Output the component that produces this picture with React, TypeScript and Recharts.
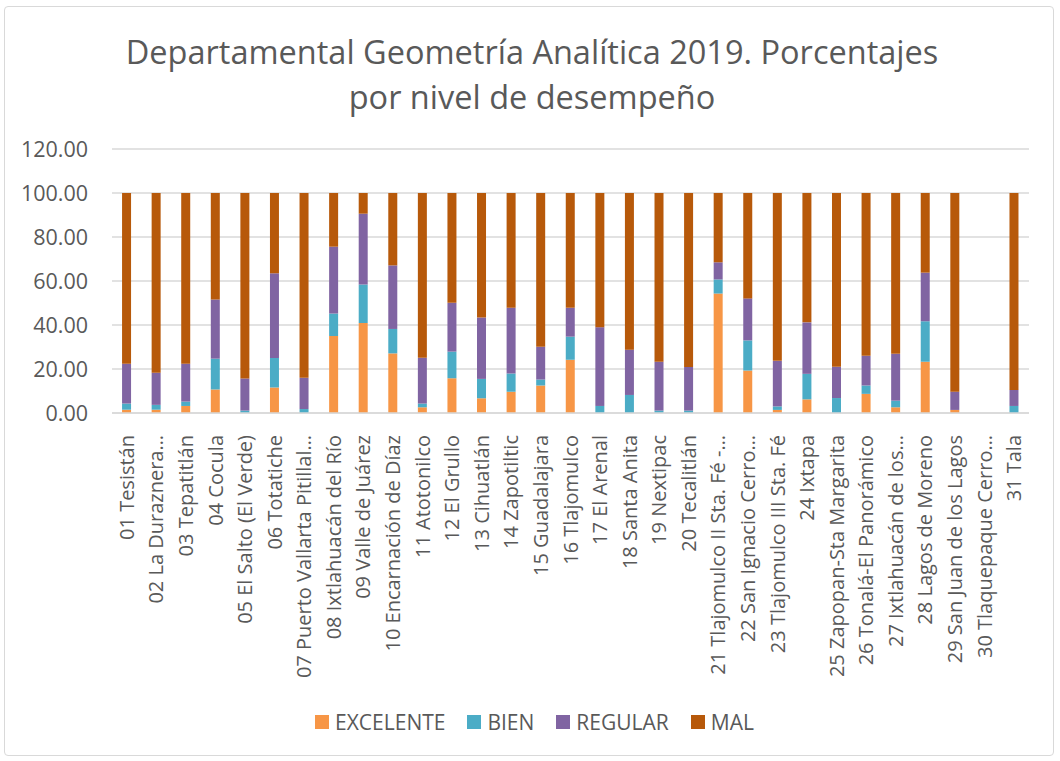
import { Bar, BarChart, CartesianGrid, Legend, XAxis, YAxis } from "recharts";

const categories = [
  "01 Tesistán",
  "02 La Duraznera…",
  "03 Tepatitlán",
  "04 Cocula",
  "05 El Salto (El Verde)",
  "06 Totatiche",
  "07 Puerto Vallarta Pitillal…",
  "08 Ixtlahuacán del Río",
  "09 Valle de Juárez",
  "10 Encarnación de Díaz",
  "11 Atotonilco",
  "12 El Grullo",
  "13 Cihuatlán",
  "14 Zapotiltic",
  "15 Guadalajara",
  "16 Tlajomulco",
  "17 El Arenal",
  "18 Santa Anita",
  "19 Nextipac",
  "20 Tecalitlán",
  "21 Tlajomulco II Sta. Fé -…",
  "22 San Ignacio Cerro…",
  "23 Tlajomulco III Sta. Fé",
  "24 Ixtapa",
  "25 Zapopan-Sta Margarita",
  "26 Tonalá-El Panorámico",
  "27 Ixtlahuacán de los…",
  "28 Lagos de Moreno",
  "29 San Juan de los Lagos",
  "30 Tlaquepaque Cerro…",
  "31 Tala",
];

const excelente = [
  1.5, 1.5, 3.2, 10.7, 0, 11.6, 0, 35.0, 40.9, 27.1, 2.6, 15.8, 6.7, 9.7, 12.5, 24.2,
  0, 0, 0, 0, 54.3, 19.3, 1.4, 6.2, 0, 8.7, 2.6, 23.3, 1.4, 0, 0,
];
const bien = [
  2.8, 2.2, 2.0, 14.0, 1.1, 13.4, 1.8, 10.2, 17.5, 11.1, 1.7, 12.1, 8.8, 8.3, 2.7, 10.5,
  3.2, 8.2, 1.1, 1.1, 6.4, 13.7, 1.6, 11.6, 6.8, 3.8, 3.0, 18.4, 0, 0, 3.2,
];
const regular = [
  18.1, 14.6, 17.2, 26.9, 14.6, 38.5, 14.2, 30.4, 32.2, 28.9, 20.8, 22.2, 27.9, 29.8, 14.9, 13.1,
  35.8, 20.6, 22.2, 19.8, 7.8, 19.1, 20.7, 23.4, 14.2, 13.5, 21.3, 22.1, 8.3, 0, 7.3,
];
const mal = [
  77.6, 81.7, 77.6, 48.4, 84.3, 36.5, 84.0, 24.4, 9.4, 32.9, 74.9, 49.9, 56.6, 52.2, 69.9, 52.2,
  61.0, 71.2, 76.7, 79.1, 31.5, 47.9, 76.3, 58.8, 79.0, 74.0, 73.1, 36.2, 90.3, 0, 89.5,
];

const yTicks = [0, 20, 40, 60, 80, 100, 120];

const seriesNames = ["EXCELENTE", "BIEN", "REGULAR", "MAL"];
const seriesColors = ["#F79646", "#4BACC6", "#8064A2", "#B7590A"];

const data = categories.map((name, i) => ({
  name,
  excelente: excelente[i],
  bien: bien[i],
  regular: regular[i],
  mal: mal[i],
}));

const FONT = "'Open Sans', sans-serif";
const TEXT = "#595959";

function CategoryTick(props: any) {
  const { x, y, payload } = props;
  return (
    <text
      x={0}
      y={0}
      transform={`translate(${x + 7},${y + 14}) rotate(-90)`}
      textAnchor="end"
      fill={TEXT}
      fontSize={20}
      fontFamily={FONT}
    >
      {payload.value}
    </text>
  );
}

function LegendContent() {
  return (
    <div
      style={{
        display: "flex",
        justifyContent: "center",
        gap: 22,
        fontFamily: FONT,
        fontSize: 21,
        color: TEXT,
        paddingLeft: 40,
        marginTop: -5,
      }}
    >
      {seriesNames.map((n, i) => (
        <div key={n} style={{ display: "flex", alignItems: "center" }}>
          <span
            style={{
              width: 14,
              height: 14,
              background: seriesColors[i],
              display: "inline-block",
              marginRight: 6,
            }}
          />
          {n}
        </div>
      ))}
    </div>
  );
}

export default function App() {
  return (
    <div style={{ position: "absolute", left: 0, top: 0, width: 1060, height: 761, background: "#fff" }}>
      <div
        style={{
          position: "absolute",
          left: 4,
          top: 6,
          width: 1050,
          height: 750,
          border: "1px solid #D9D9D9",
          borderRadius: 4,
          boxSizing: "border-box",
        }}
      />
      <div
        style={{
          position: "absolute",
          left: 0,
          top: 29,
          width: 1064,
          textAlign: "center",
          fontFamily: FONT,
          fontSize: 32.5,
          lineHeight: "45px",
          color: TEXT,
        }}
      >
        Departamental Geometría Analítica 2019. Porcentajes
        <br />
        por nivel de desempeño
      </div>
      <BarChart
        width={1060}
        height={761}
        data={data}
        margin={{ top: 149, right: 31, left: 0, bottom: 14 }}
        barCategoryGap="34%"
        style={{ position: "absolute", left: 0, top: 0 }}
      >
        <CartesianGrid vertical={false} stroke="#D9D9D9" strokeWidth={1.5} />
        <XAxis
          dataKey="name"
          interval={0}
          height={300}
          tick={<CategoryTick />}
          tickLine={false}
          axisLine={{ stroke: "#D9D9D9", strokeWidth: 1.5 }}
        />
        <YAxis
          domain={[0, 120]}
          ticks={yTicks}
          width={112}
          tickFormatter={(v: number) => v.toFixed(2)}
          tick={{ fill: TEXT, fontSize: 21.5, fontFamily: FONT }}
          tickLine={false}
          axisLine={false}
          tickSize={0}
          tickMargin={24}
        />
        <Legend verticalAlign="bottom" height={34} content={<LegendContent />} />
        <Bar dataKey="excelente" name="EXCELENTE" stackId="a" fill={seriesColors[0]} isAnimationActive={false} />
        <Bar dataKey="bien" name="BIEN" stackId="a" fill={seriesColors[1]} isAnimationActive={false} />
        <Bar dataKey="regular" name="REGULAR" stackId="a" fill={seriesColors[2]} isAnimationActive={false} />
        <Bar dataKey="mal" name="MAL" stackId="a" fill={seriesColors[3]} isAnimationActive={false} />
      </BarChart>
    </div>
  );
}
